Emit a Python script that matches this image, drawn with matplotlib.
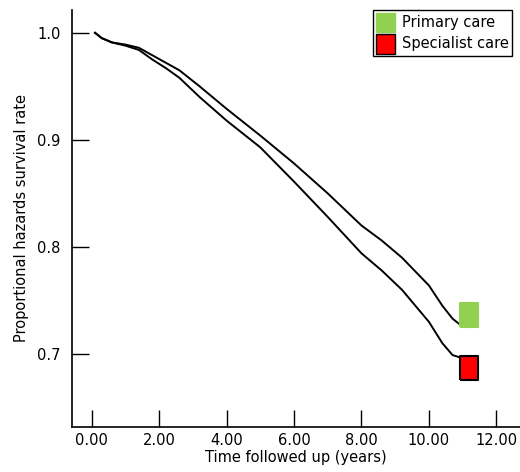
import matplotlib.pyplot as plt
import matplotlib.patches as mpatches

# values
years = [0.1, 0.3, 0.6, 1.0, 1.4, 1.8, 2.2, 2.6, 3.2, 4.0, 5.0, 6.0, 7.0, 8.0, 8.6, 9.2, 9.6, 10.0, 10.4, 10.7, 10.9]
primary = [1.0, 0.995, 0.991, 0.989, 0.986, 0.979, 0.972, 0.965, 0.950, 0.929, 0.904, 0.878,
           0.850, 0.820, 0.806, 0.790, 0.777, 0.764, 0.745, 0.733, 0.728]
specialist = [1.0, 0.995, 0.991, 0.988, 0.984, 0.975, 0.967, 0.958, 0.940, 0.918, 0.893, 0.861,
              0.828, 0.794, 0.778, 0.760, 0.745, 0.730, 0.710, 0.699, 0.697]

marker_x = [11.2, 11.2]
marker_y = [0.736, 0.687]
groups = ['Primary care', 'Specialist care']
colors = ['#92d050', '#ff0000']
edges = ['#92d050', 'black']

xticks = [0, 2, 4, 6, 8, 10, 12]
yticks = [0.7, 0.8, 0.9, 1.0]

fig = plt.figure(figsize=(5.2, 4.72), dpi=100)
ax = fig.add_axes([0.138, 0.0953, 0.862, 0.884])

ax.plot(years, primary, color='black', lw=1.4)
ax.plot(years, specialist, color='black', lw=1.4)

rect = [(-0.75, -1), (0.75, -1), (0.75, 1), (-0.75, 1), (-0.75, -1)]
for i in range(2):
    ax.plot(marker_x[i], marker_y[i], marker=rect, ms=17, color=colors[i],
            mec=edges[i], mew=1.5, ls='none')

ax.set_xlim(-0.59, 12.70)
ax.set_ylim(0.6318, 1.0215)
ax.set_xticks(xticks)
ax.set_xticklabels(['%.2f' % t for t in xticks])
ax.set_yticks(yticks)
ax.set_yticklabels(['%.1f' % t for t in yticks])
ax.tick_params(direction='in', length=12, width=1, labelsize=10.5, color='black')
ax.tick_params(axis='x', pad=4)
ax.tick_params(axis='y', pad=8)
for s in ['top', 'right']:
    ax.spines[s].set_visible(False)
for s in ['left', 'bottom']:
    ax.spines[s].set_linewidth(1.2)

ax.set_xlabel('Time followed up (years)', fontsize=10.5, labelpad=2)
ax.set_ylabel('Proportional hazards survival rate', fontsize=10.5, labelpad=6)

handles = [mpatches.Patch(facecolor=colors[i], edgecolor=edges[i], label=groups[i]) for i in range(2)]
leg = ax.legend(handles=handles, loc='upper right', bbox_to_anchor=(0.982, 1.0),
                fontsize=10.5, fancybox=False, framealpha=1, edgecolor='black',
                handlelength=1.3, handleheight=1.7, handletextpad=0.5,
                borderpad=0.2, labelspacing=0.1, borderaxespad=0)
leg.get_frame().set_linewidth(1.0)

fig.savefig('out.png', dpi=100)
